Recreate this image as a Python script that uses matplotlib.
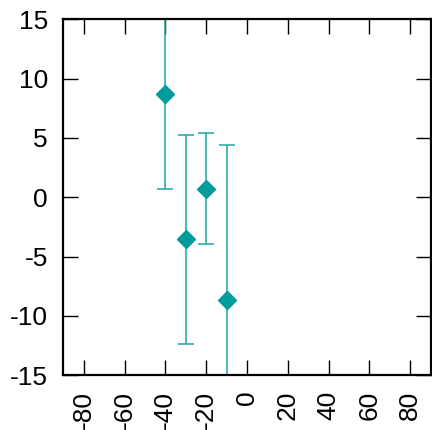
import matplotlib
matplotlib.use("Agg")
import matplotlib.pyplot as plt
import numpy as np

# values
x_values = [-40, -30, -20, -10]
y_values = [8.68, -3.54, 0.72, -8.65]
y_errors = [7.96, 8.8, 4.66, 13.03]

x_ticks = [-80, -60, -40, -20, 0, 20, 40, 60, 80]
y_ticks = [-15, -10, -5, 0, 5, 10, 15]

plt.rcParams["font.family"] = ["Liberation Sans", "DejaVu Sans"]
plt.rcParams["axes.unicode_minus"] = False

fig = plt.figure(figsize=(4.32, 4.30), dpi=100)
ax = fig.add_axes([0.1465, 0.1272, 0.8505, 0.8279])

ax.errorbar(
    x_values,
    y_values,
    yerr=y_errors,
    fmt="D",
    color="#009b9b",
    ecolor="#1aa6a6",
    markersize=9.5,
    elinewidth=1.1,
    capsize=5.8,
    capthick=1.1,
)

ax.set_xlim(-90, 90)
ax.set_ylim(-15, 15)
ax.set_xticks(x_ticks)
ax.set_yticks(y_ticks)
ax.set_xticklabels([str(t) for t in x_ticks], rotation=90)

for spine in ax.spines.values():
    spine.set_linewidth(1.6)

ax.tick_params(
    axis="both",
    direction="in",
    length=11,
    width=1.0,
    labelsize=19,
    top=True,
    right=True,
)
ax.tick_params(axis="x", pad=11)
ax.tick_params(axis="y", pad=11)

fig.savefig("out.png", dpi=100)
